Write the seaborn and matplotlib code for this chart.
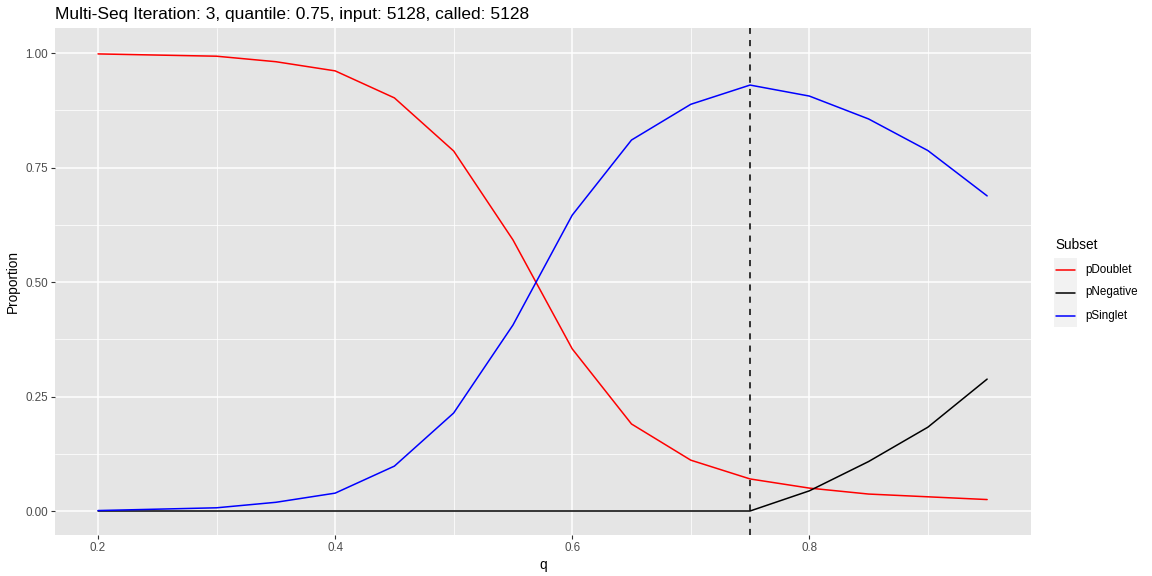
import numpy as np
import pandas as pd
import matplotlib
matplotlib.use("Agg")
import matplotlib.pyplot as plt
import seaborn as sns
from matplotlib.ticker import MultipleLocator
from matplotlib.lines import Line2D
from matplotlib.patches import Rectangle

q = [0.2, 0.3, 0.35, 0.4, 0.45, 0.5, 0.55, 0.6, 0.65, 0.7, 0.75, 0.8, 0.85, 0.9, 0.95]
p_doublet = [0.998, 0.993, 0.981, 0.961, 0.902, 0.786, 0.592, 0.354, 0.190, 0.111, 0.070, 0.050, 0.037, 0.031, 0.025]
p_negative = [0.0, 0.0, 0.0, 0.0, 0.0, 0.0, 0.0, 0.0, 0.0, 0.0, 0.0, 0.044, 0.108, 0.183, 0.288]
p_singlet = [0.001, 0.007, 0.019, 0.039, 0.098, 0.214, 0.406, 0.646, 0.810, 0.888, 0.930, 0.906, 0.856, 0.787, 0.688]
subsets = ["pDoublet", "pNegative", "pSinglet"]
colors = ["#FF0000", "#000000", "#0000FF"]
chosen_q = 0.75
title = "Multi-Seq Iteration: 3, quantile: 0.75, input: 5128, called: 5128"

df = pd.DataFrame({
    "q": q * 3,
    "Proportion": p_doublet + p_negative + p_singlet,
    "Subset": [subsets[0]] * len(q) + [subsets[1]] * len(q) + [subsets[2]] * len(q),
})

sns.set_theme(style="white")
plt.rcParams["font.family"] = ["Liberation Sans", "DejaVu Sans"]

W, H = 1152, 576
fig = plt.figure(figsize=(W / 100, H / 100), dpi=100)
ax = fig.add_axes([55 / W, 1 - 535 / H, (1031 - 55) / W, (535 - 28) / H])
ax.set_facecolor("#E5E5E5")
ax.set_axisbelow(True)

sns.lineplot(data=df, x="q", y="Proportion", hue="Subset", palette=dict(zip(subsets, colors)),
             ax=ax, linewidth=1.1, legend=False)
ax.axvline(chosen_q, color="black", linestyle=(0, (4, 4)), linewidth=1.1)

ax.set_xlim(0.1637, 0.987)
ax.set_ylim(-0.0524, 1.0546)
ax.xaxis.set_minor_locator(MultipleLocator(0.1))
ax.yaxis.set_minor_locator(MultipleLocator(0.125))
ax.set_xticks([0.2, 0.4, 0.6, 0.8])
ax.set_xticklabels(["0.2", "0.4", "0.6", "0.8"])
ax.set_yticks([0.0, 0.25, 0.5, 0.75, 1.0])
ax.set_yticklabels(["0.00", "0.25", "0.50", "0.75", "1.00"])
ax.grid(which="major", color="white", linewidth=1.1)
ax.grid(which="minor", color="white", linewidth=0.55)
for s in ax.spines.values():
    s.set_visible(False)
ax.tick_params(axis="both", which="major", length=3, width=0.8, color="#333333",
               labelsize=8.4, labelcolor="#4D4D4D", pad=2, bottom=True, left=True)
ax.tick_params(axis="both", which="minor", length=0)
ax.set_xlabel("q", fontsize=9.8, color="black", labelpad=3)
ax.set_ylabel("Proportion", fontsize=9.8, color="black", labelpad=4)

fig.text(55 / W, 1 - 14 / H, title, fontsize=12.55, color="black", ha="left", va="center")

# legend (ggplot style with grey key backgrounds)
fig.text(1055 / W, 1 - 245 / H, "Subset", fontsize=9.8, color="black", ha="left", va="center")
key_top, key_h = 258, 23
for i, (lab, col) in enumerate(zip(subsets, colors)):
    y0 = key_top + i * key_h
    fig.patches.append(Rectangle((1054 / W, 1 - (y0 + key_h) / H), 23 / W, key_h / H,
                                 transform=fig.transFigure, facecolor="#F2F2F2",
                                 edgecolor="none", zorder=1))
    yc = 1 - (y0 + key_h / 2) / H
    fig.lines.append(Line2D([1056 / W, 1075 / W], [yc, yc], transform=fig.transFigure,
                            color=col, linewidth=1.1, zorder=2))
    fig.text(1085 / W, yc, lab, fontsize=8.4, color="black", ha="left", va="center")

fig.savefig("out.png", dpi=100)
